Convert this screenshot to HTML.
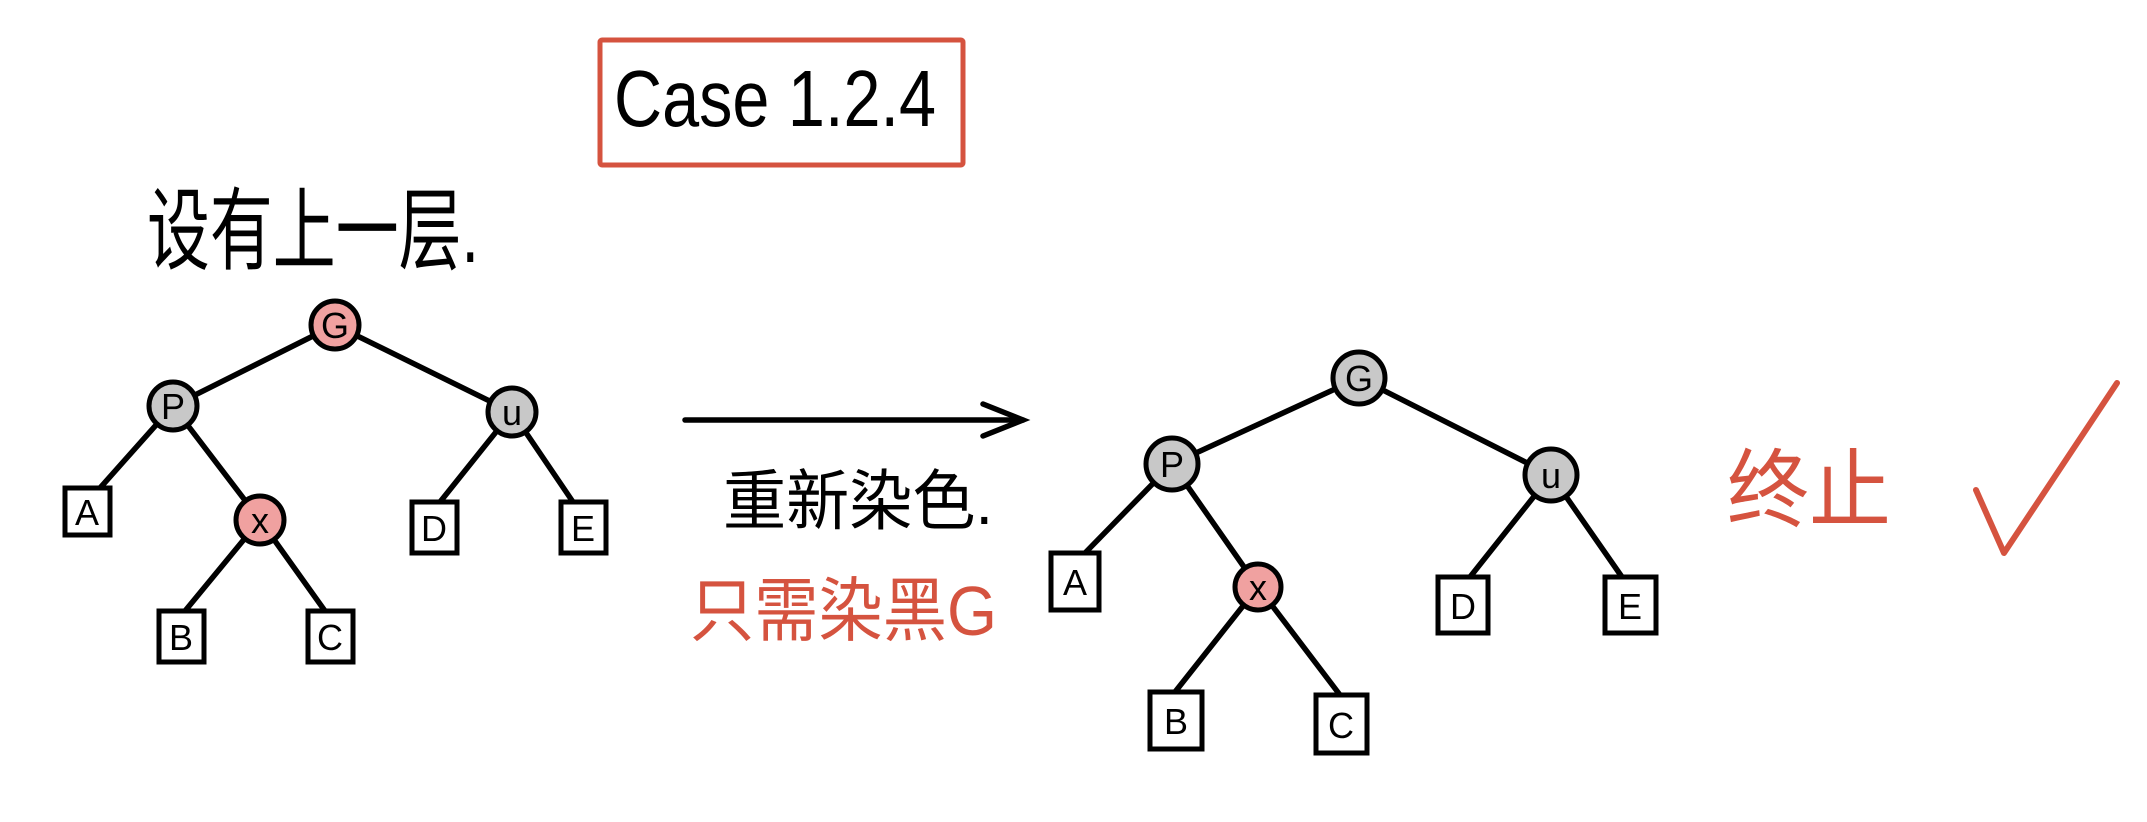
<!DOCTYPE html>
<html><head><meta charset="utf-8"><style>
html,body{margin:0;padding:0;background:#fff;}
svg{display:block;}
text{font-family:"Liberation Sans","Noto Sans CJK SC",sans-serif;}
</style></head><body>
<svg width="2147" height="822" viewBox="0 0 2147 822" xmlns="http://www.w3.org/2000/svg">
<rect x="0" y="0" width="2147" height="822" fill="#fff"/>
<rect x="600" y="40" width="363" height="125" fill="none" stroke="#d5533f" stroke-width="5" rx="2"/>
<text x="614" y="126" font-size="80" fill="#000" textLength="322" lengthAdjust="spacingAndGlyphs">Case 1.2.4</text>
<text x="147" y="262" font-size="90" fill="#000" textLength="332" lengthAdjust="spacingAndGlyphs">设有上一层.</text>

<g stroke="#000" stroke-width="5.5" fill="none" stroke-linecap="round">
<line x1="335" y1="325" x2="173" y2="406"/>
<line x1="335" y1="325" x2="512" y2="412"/>
<line x1="173" y1="406" x2="100" y2="488"/>
<line x1="173" y1="406" x2="260" y2="520"/>
<line x1="512" y1="412" x2="440" y2="502"/>
<line x1="512" y1="412" x2="573" y2="502"/>
<line x1="260" y1="520" x2="185" y2="611"/>
<line x1="260" y1="520" x2="325" y2="611"/>
<line x1="1359" y1="378" x2="1172" y2="464"/>
<line x1="1359" y1="378" x2="1551" y2="475"/>
<line x1="1172" y1="464" x2="1085" y2="553"/>
<line x1="1172" y1="464" x2="1258" y2="587"/>
<line x1="1551" y1="475" x2="1470" y2="577"/>
<line x1="1551" y1="475" x2="1622" y2="577"/>
<line x1="1258" y1="587" x2="1175" y2="692"/>
<line x1="1258" y1="587" x2="1340" y2="695"/>
<line x1="685" y1="420" x2="1023" y2="420"/>
<polyline points="983,404 1023,420 983,436"/>
</g>

<g stroke="#000" stroke-width="5">
<circle cx="335" cy="325" r="24" fill="#f0a1a0"/>
<circle cx="173" cy="406" r="24" fill="#c8c8c8"/>
<circle cx="512" cy="412" r="24" fill="#c8c8c8"/>
<circle cx="260" cy="520" r="24" fill="#f0a1a0"/>
<rect x="65" y="488" width="45" height="47" fill="#fff"/>
<rect x="412" y="502" width="45" height="51" fill="#fff"/>
<rect x="561" y="502" width="45" height="51" fill="#fff"/>
<rect x="159" y="611" width="45" height="51" fill="#fff"/>
<rect x="308" y="611" width="45" height="51" fill="#fff"/>
<circle cx="1359" cy="378" r="26" fill="#c8c8c8"/>
<circle cx="1172" cy="464" r="26" fill="#c8c8c8"/>
<circle cx="1551" cy="475" r="26" fill="#c8c8c8"/>
<circle cx="1258" cy="587" r="23" fill="#f0a1a0"/>
<rect x="1051" y="553" width="48" height="57" fill="#fff"/>
<rect x="1438" y="577" width="50" height="56" fill="#fff"/>
<rect x="1605" y="577" width="51" height="56" fill="#fff"/>
<rect x="1150" y="692" width="52" height="57" fill="#fff"/>
<rect x="1316" y="695" width="51" height="58" fill="#fff"/>
</g>

<g font-size="36" fill="#000" text-anchor="middle">
<text x="335" y="338">G</text>
<text x="173" y="419">P</text>
<text x="512" y="425">u</text>
<text x="260" y="533">x</text>
<text x="87" y="525">A</text>
<text x="434" y="541">D</text>
<text x="583" y="541">E</text>
<text x="181" y="650">B</text>
<text x="330" y="650">C</text>
<text x="1359" y="391">G</text>
<text x="1172" y="477">P</text>
<text x="1551" y="488">u</text>
<text x="1258" y="600">x</text>
<text x="1075" y="595">A</text>
<text x="1463" y="619">D</text>
<text x="1630" y="619">E</text>
<text x="1176" y="734">B</text>
<text x="1341" y="738">C</text>
</g>

<text x="723" y="524" font-size="66" fill="#000" textLength="270" lengthAdjust="spacingAndGlyphs">重新染色.</text>
<text x="690" y="635" font-size="70" fill="#d5533f" textLength="307" lengthAdjust="spacingAndGlyphs">只需染黑G</text>
<text x="1727" y="520" font-size="86" fill="#d5533f" textLength="164" lengthAdjust="spacingAndGlyphs">终止</text>
<polyline points="1976,490 2004,553 2117,383" fill="none" stroke="#d5533f" stroke-width="6" stroke-linecap="round" stroke-linejoin="round"/>
</svg>
</body></html>
